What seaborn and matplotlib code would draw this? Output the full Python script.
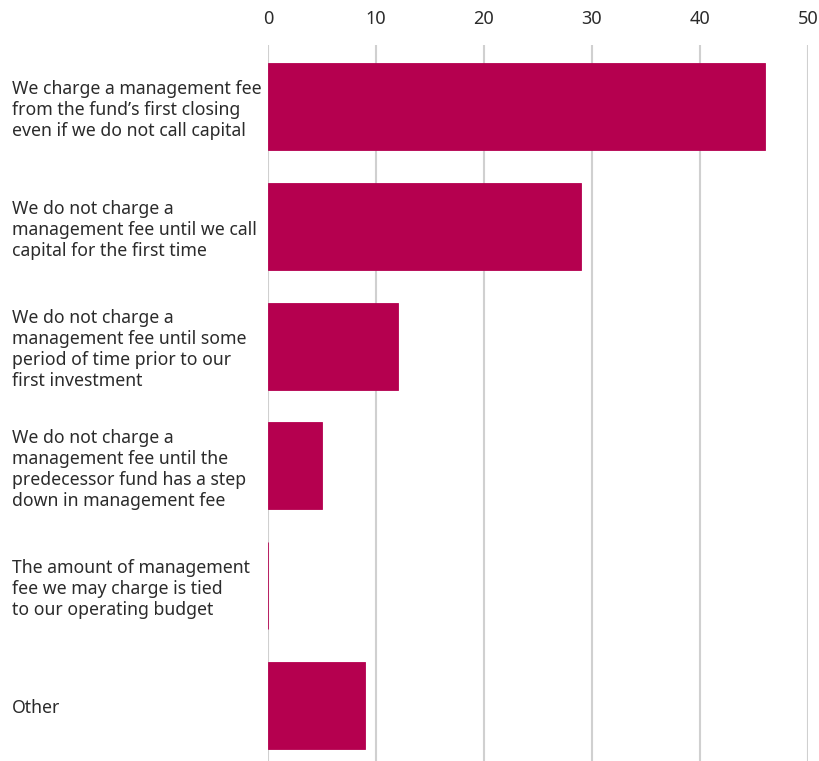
import matplotlib
matplotlib.use("Agg")
import matplotlib.pyplot as plt
import seaborn as sns
import pandas as pd

categories = [
    "We charge a management fee\nfrom the fund\u2019s first closing\neven if we do not call capital",
    "We do not charge a\nmanagement fee until we call\ncapital for the first time",
    "We do not charge a\nmanagement fee until some\nperiod of time prior to our\nfirst investment",
    "We do not charge a\nmanagement fee until the\npredecessor fund has a step\ndown in management fee",
    "The amount of management\nfee we may charge is tied\nto our operating budget",
    "Other",
]
values = [46, 29, 12, 5, 0, 9]
x_ticks = [0, 10, 20, 30, 40, 50]

bar_color = "#B5004F"
text_color = "#2b2b2b"

sns.set_theme(style="white")
plt.rcParams["font.family"] = ["Noto Sans", "DejaVu Sans"]

df = pd.DataFrame({"category": categories, "value": values})

fig = plt.figure(figsize=(8.19, 7.61), dpi=100)
ax = fig.add_axes([268 / 819, 0.0, (808 - 268) / 819, (761 - 45) / 761])

sns.barplot(data=df, x="value", y="category", orient="h", color=bar_color,
            saturation=1, width=0.725, ax=ax, edgecolor=bar_color, linewidth=0.6)

ax.set_xlim(0, 50)
ax.set_ylim(5.463, -0.513)
ax.set_xticks(x_ticks)
ax.xaxis.tick_top()
ax.set_xlabel("")
ax.set_ylabel("")
ax.grid(axis="x", color="#d0d0d0", linewidth=1.5)
ax.set_axisbelow(True)
for s in ax.spines.values():
    s.set_visible(False)

ax.tick_params(axis="x", length=0, pad=12, labelsize=13, labelcolor=text_color)
ax.tick_params(axis="y", length=0, pad=256 * 72 / 100, labelsize=12.7, labelcolor=text_color)
for lbl in ax.get_yticklabels():
    lbl.set_horizontalalignment("left")
    lbl.set_linespacing(1.22)

fig.savefig("out.png", dpi=100)
